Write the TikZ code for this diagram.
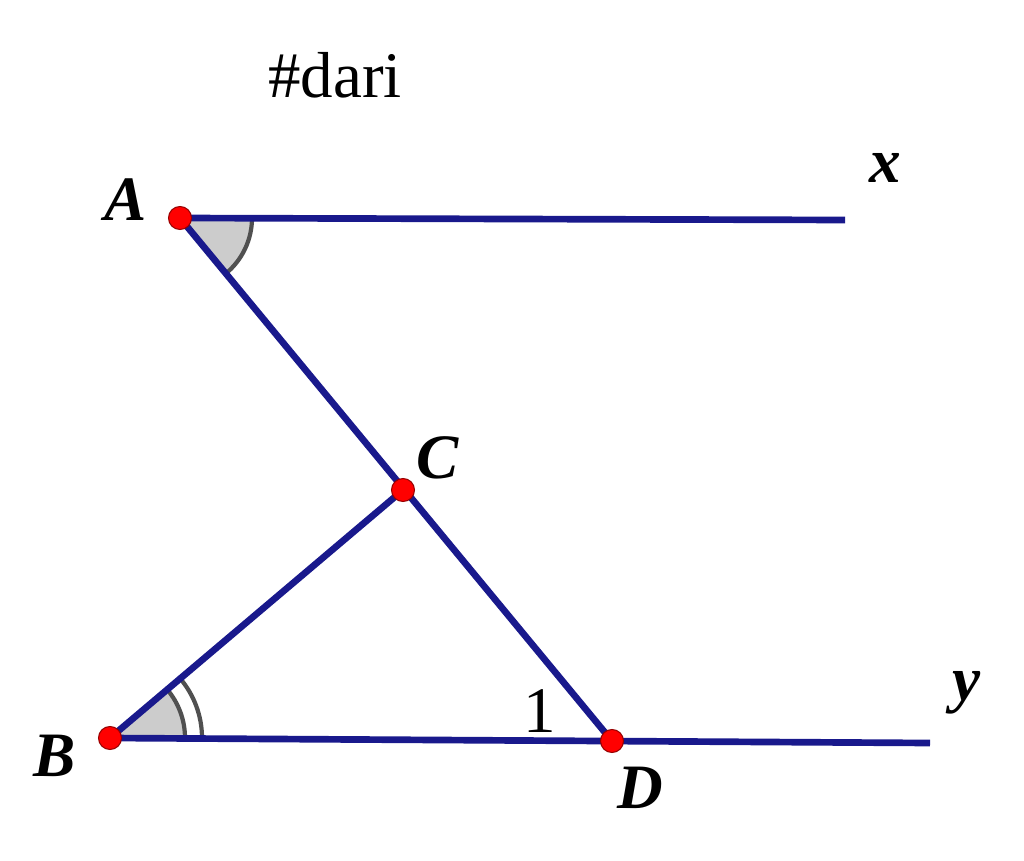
\documentclass[tikz,border=0pt]{standalone}
\usepackage{fontspec}
\setmainfont{Liberation Serif}
\begin{document}
\begin{tikzpicture}[x=0.02cm,y=-0.02cm,
  seg/.style={draw={rgb,255:red,25;green,25;blue,140},line width=3.8pt},
  pt/.style={circle,fill=red,draw={rgb,255:red,150;green,0;blue,0},line width=0.6pt,inner sep=0pt,minimum size=0.46cm},
  lab/.style={font=\fontsize{36}{40}\selectfont\bfseries\itshape,inner sep=0pt},
  txt/.style={font=\fontsize{37}{40}\selectfont,inner sep=0pt},
  arcl/.style={draw={rgb,255:red,80;green,80;blue,80},line width=2.4pt}]
\useasboundingbox (0,0) rectangle (1024,861);
\coordinate (A) at (180,218);
\coordinate (X) at (845,220);
\coordinate (C) at (403,490);
\coordinate (B) at (110,738);
\coordinate (D) at (612,741);
\coordinate (Y) at (930,743);
% angle fills
\fill[gray!40] (A) -- ++(0:72) arc[start angle=0,end angle=50.6,radius=72] -- cycle;
\fill[gray!40] (B) -- ++(0:75) arc[start angle=0,end angle=-40.2,radius=75] -- cycle;
\draw[arcl] (A) ++(0:72) arc[start angle=0,end angle=50.6,radius=72];
\draw[arcl] (B) ++(0:75) arc[start angle=0,end angle=-40.2,radius=75];
\draw[arcl] (B) ++(0:92) arc[start angle=0,end angle=-40.2,radius=92];
% segments
\draw[seg] (A) -- (X);
\draw[seg] (A) -- (D);
\draw[seg] (B) -- (C);
\draw[seg] (B) -- (Y);
% points
\node[pt] (pA) at (A) {};
\node[pt] (pB) at (B) {};
\node[pt] (pC) at (C) {};
\node[pt] (pD) at (D) {};
% labels
\node[lab] (lA) at (126,200) {A};
\node[lab] (lx) at (885,168) {x};
\node[lab] (lC) at (438,458) {C};
\node[lab] (lB) at (55,756) {B};
\node[lab] (lD) at (640,788) {D};
\node[lab] (ly) at (967,693) {y};
\node[txt] (l1) at (540,711) {1};
\node[txt] (title) at (335,75) {\#dari};
\end{tikzpicture}
\end{document}
